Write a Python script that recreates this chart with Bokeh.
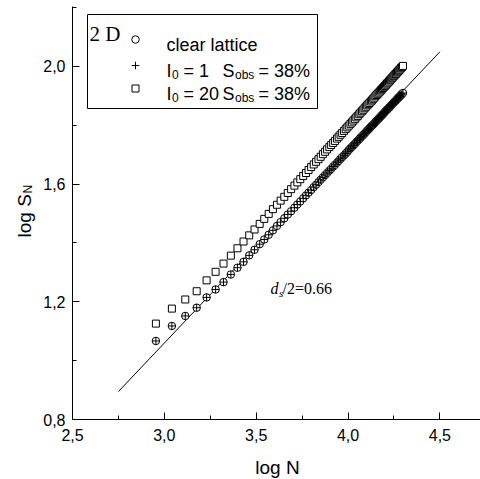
from math import pi
from bokeh.plotting import figure
from bokeh.models import FixedTicker, Label
from bokeh.embed import file_html
from bokeh.resources import INLINE

# ---- data ----
log_n = [2.954, 3.041, 3.114, 3.176, 3.230, 3.279, 3.322, 3.362, 3.398, 3.431,
         3.462, 3.491, 3.519, 3.544, 3.568, 3.591, 3.613, 3.633, 3.653, 3.672,
         3.690, 3.708, 3.724, 3.740, 3.756, 3.771, 3.785, 3.799, 3.813, 3.826,
         3.839, 3.851, 3.863, 3.875, 3.886, 3.898, 3.908, 3.919, 3.929, 3.940,
         3.949, 3.959, 3.968, 3.978, 3.987, 3.996, 4.004, 4.013, 4.021, 4.029,
         4.037, 4.045, 4.053, 4.061, 4.068, 4.076, 4.083, 4.090, 4.097, 4.104,
         4.111, 4.117, 4.124, 4.130, 4.137, 4.143, 4.149, 4.155, 4.161, 4.167,
         4.173, 4.179, 4.185, 4.190, 4.196, 4.201, 4.207, 4.212, 4.217, 4.223,
         4.228, 4.233, 4.238, 4.243, 4.248, 4.253, 4.258, 4.262, 4.267, 4.272,
         4.276, 4.281, 4.286, 4.290, 4.294, 4.299]

clear_y = [1.067, 1.118, 1.152, 1.180, 1.215, 1.242, 1.267, 1.293, 1.316, 1.336,
           1.358, 1.377, 1.396, 1.412, 1.428, 1.443, 1.458, 1.471, 1.484, 1.497,
           1.508, 1.520, 1.531, 1.541, 1.552, 1.562, 1.571, 1.580, 1.590, 1.598,
           1.607, 1.615, 1.623, 1.631, 1.638, 1.646, 1.652, 1.660, 1.666, 1.673,
           1.679, 1.686, 1.692, 1.698, 1.704, 1.710, 1.716, 1.722, 1.727, 1.732,
           1.737, 1.743, 1.748, 1.753, 1.758, 1.763, 1.768, 1.772, 1.777, 1.782,
           1.786, 1.790, 1.795, 1.799, 1.803, 1.807, 1.811, 1.815, 1.819, 1.823,
           1.827, 1.831, 1.835, 1.838, 1.842, 1.846, 1.850, 1.853, 1.856, 1.860,
           1.863, 1.867, 1.870, 1.873, 1.877, 1.880, 1.883, 1.886, 1.889, 1.893,
           1.895, 1.898, 1.902, 1.904, 1.907, 1.910]

plus_y = [1.067, 1.118, 1.152, 1.180, 1.215, 1.242, 1.267, 1.293, 1.316, 1.336,
          1.358, 1.377, 1.396, 1.412, 1.428, 1.443, 1.458, 1.471, 1.484, 1.497,
          1.508, 1.520, 1.531, 1.541, 1.552, 1.562, 1.571, 1.580, 1.590, 1.598,
          1.607, 1.615, 1.623, 1.631, 1.638, 1.646, 1.652, 1.660, 1.666, 1.673,
          1.679, 1.686, 1.692, 1.698, 1.704, 1.710, 1.716, 1.722, 1.727, 1.732,
          1.737, 1.743, 1.748, 1.753, 1.758, 1.763, 1.768, 1.772, 1.777, 1.782,
          1.786, 1.790, 1.795, 1.799, 1.803, 1.807, 1.811, 1.815, 1.819, 1.823,
          1.827, 1.831, 1.835, 1.838, 1.842, 1.846, 1.850, 1.853, 1.856, 1.860,
          1.863, 1.867, 1.870, 1.873, 1.877, 1.880, 1.883, 1.886, 1.889, 1.893,
          1.895, 1.898, 1.902, 1.904, 1.907, 1.910]

square_y = [1.126, 1.177, 1.208, 1.236, 1.273, 1.302, 1.330, 1.357, 1.382, 1.405,
            1.426, 1.446, 1.465, 1.482, 1.499, 1.515, 1.530, 1.544, 1.557, 1.570,
            1.583, 1.595, 1.606, 1.617, 1.628, 1.638, 1.648, 1.658, 1.667, 1.676,
            1.685, 1.693, 1.702, 1.710, 1.718, 1.726, 1.733, 1.740, 1.747, 1.755,
            1.761, 1.768, 1.774, 1.781, 1.787, 1.793, 1.799, 1.805, 1.810, 1.816,
            1.821, 1.827, 1.832, 1.838, 1.843, 1.848, 1.853, 1.858, 1.863, 1.868,
            1.872, 1.876, 1.881, 1.885, 1.890, 1.894, 1.899, 1.903, 1.907, 1.911,
            1.915, 1.919, 1.923, 1.927, 1.931, 1.934, 1.938, 1.942, 1.945, 1.949,
            1.953, 1.956, 1.960, 1.963, 1.967, 1.970, 1.974, 1.976, 1.980, 1.983,
            1.986, 1.989, 1.993, 1.996, 1.998, 2.002]

fit_x = [2.75, 4.50]
fit_y = [0.895, 2.05]

x_ticks = [2.5, 3.0, 3.5, 4.0, 4.5]
x_minor = [2.75, 3.25, 3.75, 4.25]
x_labels = ["2,5", "3,0", "3,5", "4,0", "4,5"]
y_ticks = [0.8, 1.2, 1.6, 2.0]
y_minor = [1.0, 1.4, 1.8, 2.2]
y_labels = ["0,8", "1,2", "1,6", "2,0"]

# ---- page geometry: the plot frame fills the whole canvas ----
W, H = 480, 479
AX_X0, AX_Y0 = 2.5, 0.8          # where the two axes cross
ORIG_PX, ORIG_PY = 72, 419       # that crossing, in canvas pixels
SX, SY = 183.7, 294.17           # pixels per unit


def dx(px):
    return AX_X0 + (px - ORIG_PX) / SX


def dy(py):
    return AX_Y0 + (ORIG_PY - py) / SY


p = figure(width=W, height=H, x_range=(dx(0), dx(W)), y_range=(dy(H), dy(0)),
           output_backend="svg", toolbar_location=None,
           min_border_left=0, min_border_right=0,
           min_border_top=0, min_border_bottom=0)
p.outline_line_color = None
p.grid.visible = False
p.background_fill_color = "white"
p.border_fill_color = "white"

SANS = "Liberation Sans"
SERIF = "Liberation Serif"

p.xaxis[0].fixed_location = AX_Y0
p.yaxis[0].fixed_location = AX_X0
p.xaxis[0].bounds = (AX_X0, dx(W))
p.yaxis[0].bounds = (AX_Y0, dy(6))

for ax, ticks, minor, labels in ((p.xaxis[0], x_ticks, x_minor, x_labels),
                                 (p.yaxis[0], y_ticks, y_minor, y_labels)):
    ax.ticker = FixedTicker(ticks=ticks, minor_ticks=minor)
    ax.major_label_overrides = {t: l for t, l in zip(ticks, labels)}
    ax.axis_line_color = "black"
    ax.axis_line_width = 1
    ax.major_tick_line_color = "black"
    ax.minor_tick_line_color = "black"
    ax.major_tick_in = 7
    ax.major_tick_out = 0
    ax.minor_tick_in = 4
    ax.minor_tick_out = 0
    ax.major_label_text_font = SANS
    ax.major_label_text_font_size = "16px"
    ax.major_label_text_color = "black"
p.xaxis[0].major_label_standoff = 9
p.yaxis[0].major_label_standoff = 7


def lab(text, px, py, size, font=SANS, style="normal", angle=0.0, align="left"):
    p.add_layout(Label(x=dx(px), y=dy(py), text=text, text_font=font,
                       text_font_size=f"{size}px", text_font_style=style,
                       text_baseline="alphabetic", text_align=align,
                       angle=angle, text_color="black"))


# fit line
p.line(fit_x, fit_y, line_color="black", line_width=1)

# data series
p.scatter(log_n, square_y, marker="square", size=7, fill_color="white",
          line_color="black", line_width=1)
p.scatter(log_n, clear_y, marker="circle", size=7.5, fill_color="white",
          line_color="black", line_width=1)
p.scatter(log_n, plus_y, marker="cross", size=7.5, line_color="black", line_width=1)

# legend box
p.quad(left=dx(87), right=dx(317), top=dy(14), bottom=dy(108),
       fill_color="white", line_color="black", line_width=1)
p.scatter([dx(135)], [dy(39)], marker="circle", size=7.5, fill_color="white",
          line_color="black", line_width=1)
p.scatter([dx(135)], [dy(65)], marker="cross", size=7.5, line_color="black", line_width=1)
p.scatter([dx(135)], [dy(88)], marker="square", size=7, fill_color="white",
          line_color="black", line_width=1)

lab("2 D", 89, 33, 21, font=SERIF)
lab("clear lattice", 166, 44, 18)
for base, num in ((70, "= 1"), (93, "= 20")):
    lab("I", 166, base, 18)
    lab("0", 171.5, base + 4, 12)
    lab(num, 183, base, 18)
    lab("S", 222, base, 18)
    lab("obs", 234.5, base + 4, 12)
    lab("= 38%", 258, base, 18)

# slope annotation
lab("d", 270, 288, 16, font=SERIF, style="italic")
lab("s", 278.5, 292, 11, font=SERIF, style="italic")
lab("/2=0.66", 282, 288, 16, font=SERIF)

# axis titles
lab("log N", 277, 467, 19, align="center")
lab("log S", 24, 237, 19, angle=pi / 2)
lab("N", 27.5, 193, 12, angle=pi / 2)

open("out.html", "w").write(file_html(p, INLINE))
